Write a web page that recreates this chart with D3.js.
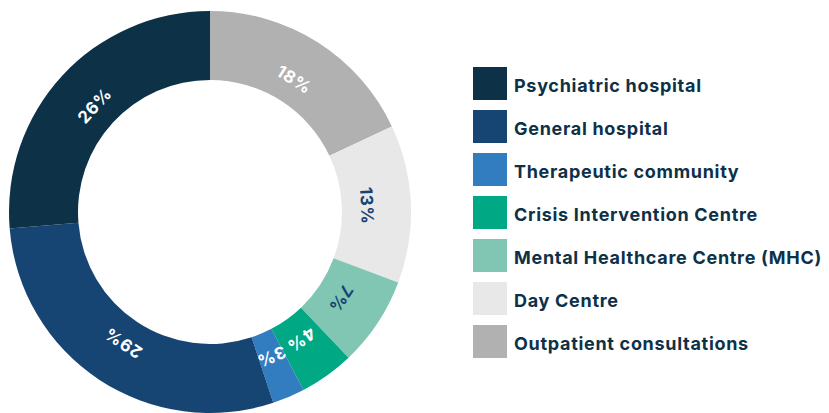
<!DOCTYPE html>
<html><head><meta charset="utf-8">
<script src="https://cdn.jsdelivr.net/npm/d3@7"></script>
<style>body{margin:0;background:#fff;} svg{display:block;}</style>
</head><body>
<svg id="chart" width="829" height="413"></svg>
<script>
const categories = ["Outpatient consultations","Day Centre","Mental Healthcare Centre (MHC)","Crisis Intervention Centre","Therapeutic community","General hospital","Psychiatric hospital"];
const values = [18.0, 12.7, 7.2, 4.4, 2.6, 28.8, 26.3];
const colors = ["#b1b1b1","#e8e8e8","#80c6b2","#00a884","#327dc0","#174573","#0d3147"];
const labelColors = ["#ffffff","#174573","#174573","#ffffff","#ffffff","#ffffff","#ffffff"];
const legendOrder = ["Psychiatric hospital","General hospital","Therapeutic community","Crisis Intervention Centre","Mental Healthcare Centre (MHC)","Day Centre","Outpatient consultations"];

const svg = d3.select("#chart");
const cx = 210, cy = 212, R = 201, r = 132;
const g = svg.append("g").attr("transform", `translate(${cx},${cy})`);
const data = categories.map((c,i)=>({cat:c, value:values[i], color:colors[i], lc:labelColors[i]}));
const pie = d3.pie().value(d=>d.value).sort(null);
const arc = d3.arc().innerRadius(r).outerRadius(R);
const arcs = pie(data);
g.selectAll("path").data(arcs).enter().append("path")
  .attr("d", arc).attr("fill", d=>d.data.color);
const lr = 157;
g.selectAll("text").data(arcs).enter().append("text")
  .attr("transform", d=>{
    const a = (d.startAngle+d.endAngle)/2;
    const x = lr*Math.sin(a), y = -lr*Math.cos(a);
    return `translate(${x},${y}) rotate(${a*180/Math.PI})`;
  })
  .attr("text-anchor","middle").attr("dominant-baseline","central")
  .attr("font-family","Inter, sans-serif").attr("font-weight",700).attr("font-size",17)
  .attr("letter-spacing",0.6)
  .attr("fill", d=>d.data.lc)
  .text(d=>Math.round(d.data.value)+"%");

const leg = svg.append("g").attr("transform","translate(473,67)");
const colorOf = c => colors[categories.indexOf(c)];
const items = leg.selectAll("g").data(legendOrder).enter().append("g")
  .attr("transform",(d,i)=>`translate(0,${i*43})`);
items.append("rect").attr("width",34).attr("height",33).attr("fill",d=>colorOf(d));
items.append("text").attr("x",41).attr("y",24.5)
  .attr("font-family","Inter, sans-serif").attr("font-weight",700).attr("font-size",18)
  .attr("letter-spacing",0.7)
  .attr("fill","#0d3147").text(d=>d);
</script>
</body></html>
